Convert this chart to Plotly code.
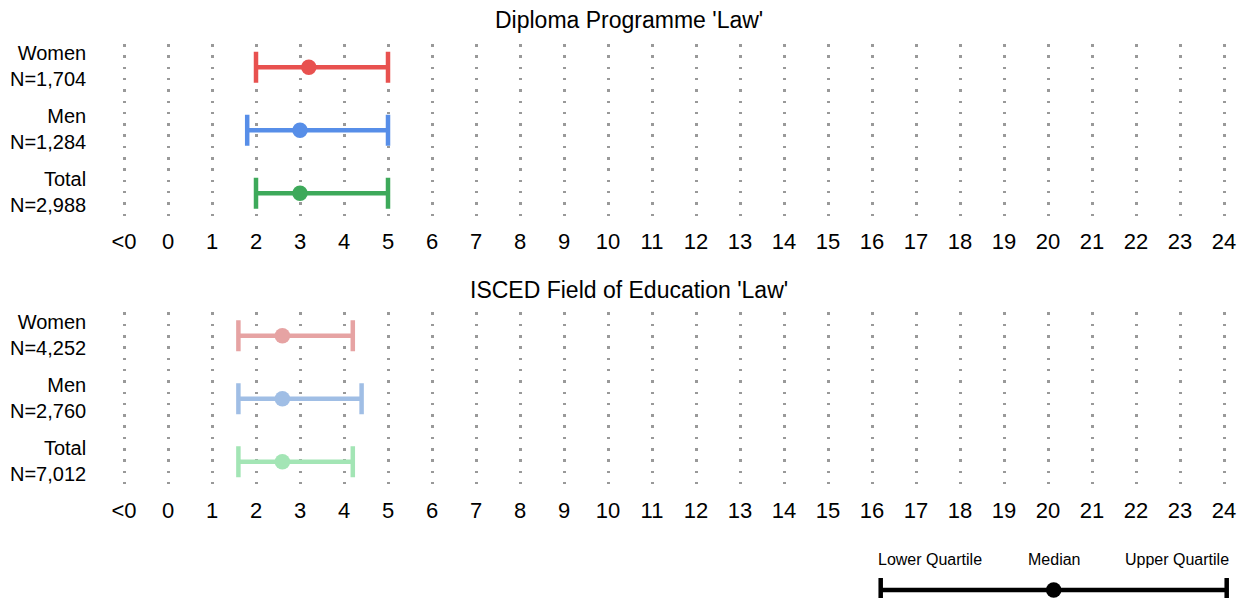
import plotly.graph_objects as go

# The page body has an 8px margin, so the figure sits at (8, 8) in the window.
OFF = 8
W, H = 1250 - OFF, 598 - OFF

groups = ["Women", "Men", "Total"]
n_diploma = ["1,704", "1,284", "2,988"]
n_isced = ["4,252", "2,760", "7,012"]

diploma_lower = [2.0, 1.8, 2.0]
diploma_median = [3.2, 3.0, 3.0]
diploma_upper = [5.0, 5.0, 5.0]

isced_lower = [1.6, 1.6, 1.6]
isced_median = [2.6, 2.6, 2.6]
isced_upper = [4.2, 4.4, 4.2]

tick_values = list(range(-1, 25))
tick_labels = ["<0"] + [str(i) for i in range(25)]

panel_titles = ["Diploma Programme 'Law'", "ISCED Field of Education 'Law'"]
legend_labels = ["Lower Quartile", "Median", "Upper Quartile"]

colors_strong = ["#E8514F", "#578EE8", "#3DA95A"]
colors_light = ["#E6A3A3", "#A0BEE5", "#A3E5B5"]

FONT = "Liberation Sans, Arial, sans-serif"
row_y = [3, 2, 1]


def px_x(p):
    return (p - OFF) / W


def px_y(p):
    return 1 - (p - OFF) / H


fig = go.Figure()


def add_panel(lower, median, upper, colors, xa, ya):
    for i in range(3):
        fig.add_trace(go.Scatter(
            x=[median[i]], y=[row_y[i]], mode="markers",
            marker=dict(size=15.5, color=colors[i]),
            error_x=dict(type="data", symmetric=False,
                         array=[upper[i] - median[i]],
                         arrayminus=[median[i] - lower[i]],
                         color=colors[i], thickness=4.5, width=15.5),
            xaxis=xa, yaxis=ya, showlegend=False, hoverinfo="skip",
            cliponaxis=False))


add_panel(diploma_lower, diploma_median, diploma_upper, colors_strong, "x", "y")
add_panel(isced_lower, isced_median, isced_upper, colors_light, "x2", "y2")

# legend key
fig.add_trace(go.Scatter(
    x=[0.5], y=[0], mode="markers",
    marker=dict(size=15.5, color="black"),
    error_x=dict(type="data", symmetric=True, array=[0.5],
                 color="black", thickness=4.5, width=12),
    xaxis="x3", yaxis="y3", showlegend=False, hoverinfo="skip"))

# pixel geometry (window pixels)
x_left_px, unit_px = 124.0, 44.0  # pixel of value -1, px per unit
xr = [-1.3, 24.3]
xd = [px_x(x_left_px + (xr[0] + 1) * unit_px), px_x(x_left_px + (xr[1] + 1) * unit_px)]

row_px_top = [67.3, 335.7]  # pixel of "Women" row in each panel
row_step = 63.0


def ydom(top_row_px):
    top = top_row_px - 23.3
    bottom = top_row_px + 2 * row_step + 23.7
    rng = [1 - (bottom - (top_row_px + 2 * row_step)) / row_step, 3 + (top_row_px - top) / row_step]
    return [px_y(bottom), px_y(top)], rng


yd1, yr1 = ydom(row_px_top[0])
yd2, yr2 = ydom(row_px_top[1])

xaxis_common = dict(
    range=xr, domain=xd, tickmode="array", tickvals=tick_values, ticktext=tick_labels,
    showgrid=True, gridcolor="#999999", gridwidth=2.5, griddash="2.5px,8.8px",
    zeroline=False, showline=False, ticks="outside", ticklen=5,
    tickcolor="rgba(0,0,0,0)", tickfont=dict(family=FONT, size=22, color="black"),
    fixedrange=True)
yaxis_common = dict(showgrid=False, zeroline=False, showline=False,
                    showticklabels=False, ticks="", fixedrange=True)

lx0, lx1 = 880.7, 1226.7
lunit = lx1 - lx0
lleft, lright = 860.0, 1248.0
ld = [px_x(lleft), px_x(lright)]
lr = [-(lx0 - lleft) / lunit, 1 + (lright - lx1) / lunit]
# legend y axis: pixel 574 -> 1.333, pixel 598 -> -0.667 (value 0 at 590)
ly_top, ly_bot = 574.0, 598.0

fig.update_layout(
    width=W, height=H,
    margin=dict(l=0, r=0, t=0, b=0),
    paper_bgcolor="white", plot_bgcolor="white",
    xaxis=dict(anchor="y", **xaxis_common),
    yaxis=dict(anchor="x", domain=yd1, range=yr1, **yaxis_common),
    xaxis2=dict(anchor="y2", **xaxis_common),
    yaxis2=dict(anchor="x2", domain=yd2, range=yr2, **yaxis_common),
    xaxis3=dict(anchor="y3", domain=ld, range=lr, visible=False, fixedrange=True),
    yaxis3=dict(anchor="x3", domain=[max(0, px_y(ly_bot)), px_y(ly_top)],
                range=[-0.667, 1.333], visible=False, fixedrange=True),
    showlegend=False,
)

ann = []
title_px = [20, 290]
for t, py in zip(panel_titles, title_px):
    ann.append(dict(text=t, x=px_x(629), y=px_y(py), xref="paper", yref="paper",
                    xanchor="center", yanchor="middle", showarrow=False,
                    font=dict(family=FONT, size=23, color="black")))

for top_px, ns in zip(row_px_top, [n_diploma, n_isced]):
    for i, (g, n) in enumerate(zip(groups, ns)):
        py = top_px + i * row_step
        ann.append(dict(text=f"{g}<br>N={n}", x=px_x(88), y=px_y(py - 1), xref="paper", yref="paper",
                        xanchor="right", yanchor="middle", align="right", showarrow=False,
                        font=dict(family=FONT, size=20, color="black")))

for lab, px in zip(legend_labels, [930, 1054, 1176.7]):
    ann.append(dict(text=lab, x=px_x(px), y=px_y(559), xref="paper", yref="paper",
                    xanchor="center", yanchor="middle", showarrow=False,
                    font=dict(family=FONT, size=16, color="black")))

fig.update_layout(annotations=ann)
fig.write_html("out.html")
